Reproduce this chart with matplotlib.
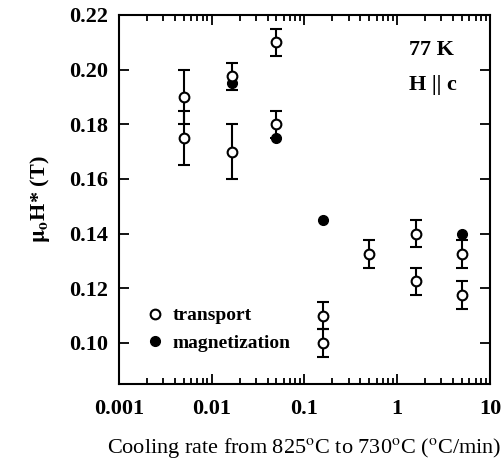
import numpy as np
import matplotlib
matplotlib.use('Agg')
import matplotlib.pyplot as plt
from matplotlib.lines import Line2D
from matplotlib.ticker import LogLocator, FixedLocator, NullFormatter

plt.rcParams['font.family'] = 'Liberation Serif'
plt.rcParams['mathtext.fontset'] = 'stix'

# transport data (cooling rate, field, error)
tr_rate = [0.005, 0.005, 0.0167, 0.0167, 0.05, 0.05, 0.16, 0.16, 0.5, 1.6, 1.6, 5.0, 5.0]
tr_h = [0.190, 0.175, 0.1975, 0.170, 0.210, 0.180, 0.110, 0.100, 0.1325, 0.140, 0.1225, 0.1325, 0.1175]
tr_err = [0.010, 0.010, 0.005, 0.010, 0.005, 0.005, 0.005, 0.005, 0.005, 0.005, 0.005, 0.005, 0.005]

# magnetization data
mag_rate = [0.0167, 0.05, 0.16, 5.0]
mag_h = [0.195, 0.175, 0.145, 0.140]

yticks = [0.10, 0.12, 0.14, 0.16, 0.18, 0.20, 0.22]
xticks = [0.001, 0.01, 0.1, 1, 10]
xticklabels = ['0.001', '0.01', '0.1', '1', '10']

fig = plt.figure(figsize=(5.04, 4.66), dpi=100)
ax = fig.add_axes([0.236, 0.176, 0.736, 0.792])

ax.plot(mag_rate, mag_h, 'o', ms=7, mfc='black', mec='black', zorder=2)
ax.errorbar(tr_rate, tr_h, yerr=tr_err, fmt='o', ms=7, mfc='white', mec='black',
            mew=1.5, ecolor='black', elinewidth=1.5, capsize=4, capthick=1.5, zorder=3)

ax.set_xscale('log')
ax.set_xlim(0.001, 10)
ax.set_ylim(0.085, 0.22)
ax.set_xticks(xticks)
ax.set_xticklabels(xticklabels)
ax.xaxis.set_minor_locator(LogLocator(base=10, subs=np.arange(2, 10)))
ax.xaxis.set_minor_formatter(NullFormatter())
ax.yaxis.set_major_locator(FixedLocator(yticks))
ax.set_yticklabels(['%.2f' % v for v in yticks])

ax.tick_params(which='both', direction='in', top=True, right=True, width=1.3)
ax.tick_params(which='major', length=7, labelsize=16)
ax.tick_params(axis='x', which='major', pad=11)
ax.tick_params(axis='y', which='major', pad=8)
ax.tick_params(which='minor', length=4)
for lab in ax.get_xticklabels() + ax.get_yticklabels():
    lab.set_fontweight('bold')
for s in ax.spines.values():
    s.set_linewidth(1.5)

ax.set_xlabel('Cooling rate from 825$^{\\mathrm{o}}$C to 730$^{\\mathrm{o}}$C ($^{\\mathrm{o}}$C/min)',
              fontsize=16, labelpad=12)
ax.set_ylabel('$\\mathbf{\\mu_o}$H* (T)', fontsize=16, fontweight='bold', labelpad=12)

ax.text(0.782, 0.905, '77 K', transform=ax.transAxes, ha='left', va='center',
        fontsize=16, fontweight='bold')
ax.text(0.782, 0.81, 'H || c', transform=ax.transAxes, ha='left', va='center',
        fontsize=16, fontweight='bold')

handles = [Line2D([], [], ls='none', marker='o', ms=7, mfc='white', mec='black', mew=1.5),
           Line2D([], [], ls='none', marker='o', ms=7, mfc='black', mec='black')]
ax.legend(handles, ['transport', 'magnetization'], loc='lower left', bbox_to_anchor=(0.029, 0.04),
          frameon=False, handlelength=0.8, handletextpad=0.5, labelspacing=0.5,
          prop={'size': 14, 'weight': 'bold'}, numpoints=1)

fig.savefig('out.png', dpi=100)
